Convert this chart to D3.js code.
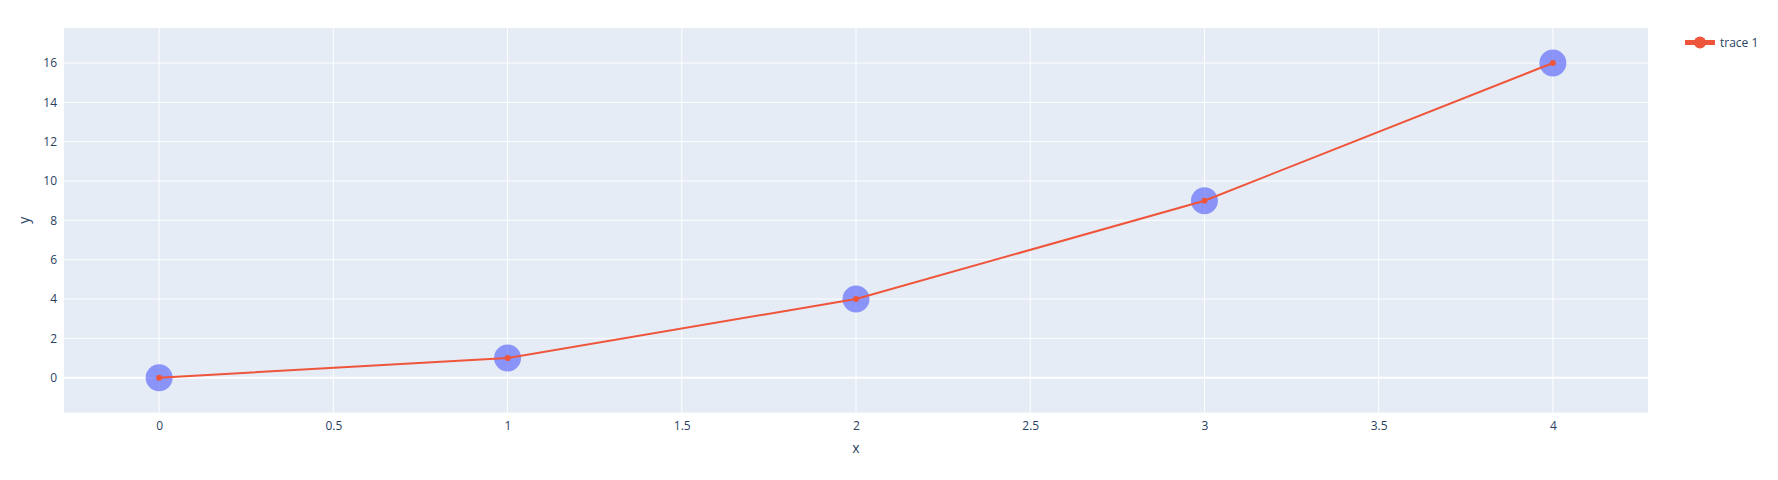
<!DOCTYPE html>
<html>
<head>
<meta charset="utf-8">
<script src="https://cdn.jsdelivr.net/npm/d3@7"></script>
<style>
  html, body { margin: 0; padding: 0; background: #fff; }
  svg { display: block; font-family: "Open Sans", verdana, arial, sans-serif; }
</style>
</head>
<body>
<svg id="chart" width="1778" height="480"></svg>
<script>
const xValues = [0, 1, 2, 3, 4];
const yValues = [0, 1, 4, 9, 16];
const xTicks = [0, 0.5, 1, 1.5, 2, 2.5, 3, 3.5, 4];
const yTicks = [0, 2, 4, 6, 8, 10, 12, 14, 16];
const seriesName = "trace 1";
const xTitle = "x";
const yTitle = "y";

const W = 1778, H = 480;
const plot = { left: 64, right: 1648, top: 28, bottom: 412.7 };
const svg = d3.select("#chart");

const x = d3.scaleLinear().domain([-0.273, 4.273]).range([plot.left, plot.right]);
const y = d3.scaleLinear().domain([-1.78, 17.78]).range([plot.bottom, plot.top]);

svg.append("rect")
  .attr("x", plot.left).attr("y", plot.top)
  .attr("width", plot.right - plot.left).attr("height", plot.bottom - plot.top)
  .attr("fill", "#e5ecf6");

// grid
svg.append("g").selectAll("line").data(xTicks).join("line")
  .attr("x1", d => x(d)).attr("x2", d => x(d))
  .attr("y1", plot.top).attr("y2", plot.bottom)
  .attr("stroke", "#fff").attr("stroke-width", 1);
svg.append("g").selectAll("line").data(yTicks).join("line")
  .attr("y1", d => y(d)).attr("y2", d => y(d))
  .attr("x1", plot.left).attr("x2", plot.right)
  .attr("stroke", "#fff").attr("stroke-width", d => d === 0 ? 2 : 1);

// axes
const xAxis = d3.axisBottom(x).tickValues(xTicks).tickSize(0).tickPadding(9).tickFormat(d3.format("~g"));
const gx = svg.append("g").attr("transform", `translate(0,${plot.bottom})`).call(xAxis);
gx.select(".domain").remove();
gx.selectAll("text").attr("fill", "#2a3f5f").style("font-size", "12px").style("font-family", '"Open Sans", verdana, arial, sans-serif');

const yAxis = d3.axisLeft(y).tickValues(yTicks).tickSize(0).tickPadding(7).tickFormat(d3.format("~g"));
const gy = svg.append("g").attr("transform", `translate(${plot.left},0)`).call(yAxis);
gy.select(".domain").remove();
gy.selectAll("text").attr("fill", "#2a3f5f").style("font-size", "12px").style("font-family", '"Open Sans", verdana, arial, sans-serif');

// axis titles
svg.append("text").attr("x", (plot.left + plot.right) / 2).attr("y", 453)
  .attr("text-anchor", "middle").attr("fill", "#2a3f5f").style("font-size", "14px").text(xTitle);
svg.append("text").attr("transform", `translate(29,${(plot.top + plot.bottom) / 2}) rotate(-90)`)
  .attr("text-anchor", "middle").attr("fill", "#2a3f5f").style("font-size", "14px").text(yTitle);

const pts = xValues.map((v, i) => [v, yValues[i]]);

// big markers
svg.append("g").selectAll("circle").data(pts).join("circle")
  .attr("cx", d => x(d[0])).attr("cy", d => y(d[1])).attr("r", 13.5)
  .attr("fill", "#636efa").attr("fill-opacity", 0.7);

// line
svg.append("path").datum(pts)
  .attr("d", d3.line().x(d => x(d[0])).y(d => y(d[1])))
  .attr("fill", "none").attr("stroke", "#ef553b").attr("stroke-width", 2);

svg.append("g").selectAll("circle").data(pts).join("circle")
  .attr("cx", d => x(d[0])).attr("cy", d => y(d[1])).attr("r", 3)
  .attr("fill", "#ef553b");

// legend
const lg = svg.append("g").attr("transform", "translate(1685,42.5)");
lg.append("line").attr("x1", 0).attr("x2", 30).attr("y1", 0).attr("y2", 0)
  .attr("stroke", "#ef553b").attr("stroke-width", 5);
lg.append("circle").attr("cx", 15).attr("cy", 0).attr("r", 6).attr("fill", "#ef553b");
lg.append("text").attr("x", 35).attr("y", 4.5).attr("fill", "#2a3f5f").style("font-size", "12px").text(seriesName);
</script>
</body>
</html>
